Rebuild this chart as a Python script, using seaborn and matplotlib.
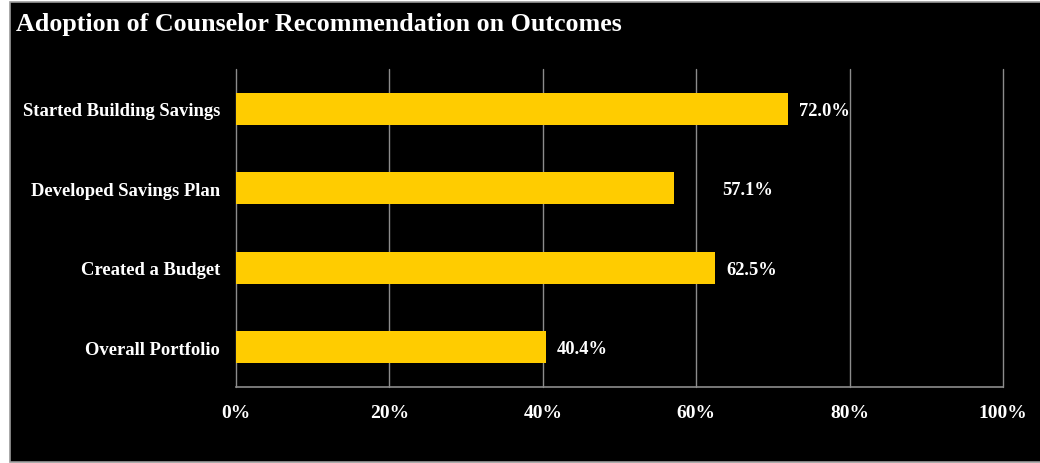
import matplotlib
matplotlib.use("Agg")
import matplotlib.pyplot as plt
from matplotlib.patches import Rectangle
from matplotlib.ticker import FuncFormatter
import seaborn as sns
import pandas as pd

# Outcome categories and adoption rates (percent)
categories = ["Started Building Savings", "Developed Savings Plan",
              "Created a Budget", "Overall Portfolio"]
adoption_pct = [72.0, 57.1, 62.5, 40.4]
x_ticks = [0, 20, 40, 60, 80, 100]

sns.set_theme(style="dark")
plt.rcParams["font.family"] = ["Liberation Serif", "DejaVu Serif"]
plt.rcParams["font.weight"] = "bold"

df = pd.DataFrame({"category": categories, "pct": adoption_pct})

fig = plt.figure(figsize=(10.4, 4.64), dpi=100, facecolor="white")

# dark panel behind the whole chart
panel = Rectangle((9.5 / 1040, 1.5 / 464), 1 - 9.5 / 1040 + 0.01, 459.5 / 464,
                  transform=fig.transFigure, facecolor="black",
                  edgecolor="#9a9a9a", linewidth=1.2, zorder=-10)
fig.patches.append(panel)

ax = fig.add_axes([236 / 1040, 76 / 464, 767 / 1040, 318 / 464])
ax.set_facecolor("black")

sns.barplot(data=df, y="category", x="pct", orient="h", color="#FFCC00",
            width=0.4, saturation=1, linewidth=0, edgecolor="#FFCC00",
            ax=ax, zorder=3)

ax.set_xlim(0, 100)
ax.set_ylim(3.5, -0.5)
ax.set_xticks(x_ticks)
ax.xaxis.set_major_formatter(FuncFormatter(lambda v, p: f"{v:.0f}%"))
ax.grid(False)
# vertical gridlines, left unclipped so the 100% line shows in full
for t in x_ticks:
    ax.axvline(t, color="#8c8c8c", linewidth=1.0, zorder=1, clip_on=False)
ax.set_xlabel("")
ax.set_ylabel("")

for side in ["top", "right", "left"]:
    ax.spines[side].set_visible(False)
ax.spines["bottom"].set_visible(True)
ax.spines["bottom"].set_color("#8c8c8c")
ax.spines["bottom"].set_linewidth(1.2)

ax.tick_params(axis="x", length=0, pad=12, labelsize=14, labelcolor="white")
ax.tick_params(axis="y", length=0, pad=11.5, labelsize=13.4, labelcolor="white")
for lbl in ax.get_xticklabels() + ax.get_yticklabels():
    lbl.set_fontweight("bold")

# value labels to the right of each bar
label_shift = [11, 48, 11, 11]
for i, (v, dx) in enumerate(zip(adoption_pct, label_shift)):
    ax.annotate(f"{v:.1f}%", xy=(v, i), xytext=(dx * 0.72, -1),
                textcoords="offset points", ha="left", va="center",
                color="white", fontsize=13.3, fontweight="bold", zorder=4)

fig.text(16 / 1040, 1 - 24 / 464, "Adoption of Counselor Recommendation on Outcomes",
         color="white", fontsize=18.7, fontweight="bold", ha="left", va="center")

fig.savefig("out.png", dpi=100, facecolor="white")
